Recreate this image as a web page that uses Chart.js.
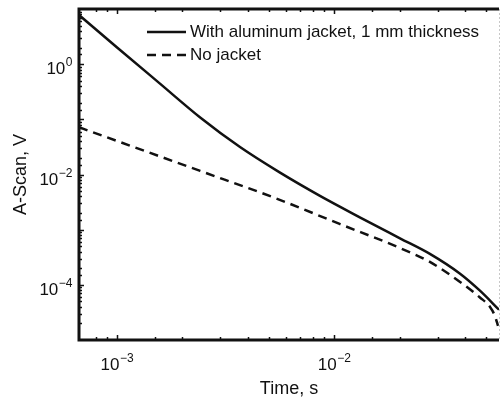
<!DOCTYPE html>
<html>
<head>
<meta charset="utf-8">
<script src="https://cdn.jsdelivr.net/npm/chart.js@4"></script>
<style>
  body { margin: 0; background: #fff; }
  canvas { display: block; }
</style>
</head>
<body>
<canvas id="ascan" width="500" height="398"></canvas>
<script>
// values (log-log)
const timeJacket = [6.7e-4, 1.0e-3, 1.58e-3, 2.42e-3, 3.69e-3, 5.64e-3, 8.61e-3, 1.32e-2, 2.01e-2, 2.76e-2, 3.8e-2, 4.69e-2, 5.74e-2];
const voltJacket = [7.78, 2.03, 0.444, 0.108, 0.0314, 0.0108, 4.1e-3, 1.66e-3, 6.98e-4, 3.64e-4, 1.59e-4, 7.83e-5, 3.54e-5];

const timeNoJacket = [6.7e-4, 2.42e-3, 5.35e-3, 1.06e-2, 2.01e-2, 2.76e-2, 3.8e-2, 4.69e-2, 5.22e-2, 5.5e-2, 5.68e-2];
const voltNoJacket = [0.0718, 0.0116, 3.75e-3, 1.27e-3, 4.65e-4, 2.6e-4, 1.13e-4, 5.9e-5, 3.97e-5, 2.72e-5, 1.8e-5];

const seriesNames = ['With aluminum jacket, 1 mm thickness', 'No jacket'];

const xTickExps = [-3, -2];
const yTickExps = [0, -2, -4];

const FONT = 'Liberation Sans, Arial, sans-serif';

const decadeOf = (v) => {
    const e = Math.log10(v);
    return Math.abs(e - Math.round(e)) < 1e-6 ? Math.round(e) : null;
};

const toPoints = (xs, ys) => xs.map((x, i) => ({ x: x, y: ys[i] }));

// "10" with a raised exponent, anchored by its right edge or its centre
const drawPower = (ctx, exp, x, baseY, align) => {
    const base = '10';
    const sup = String(exp).replace('-', '\u2212');
    ctx.font = '17px ' + FONT;
    const wBase = ctx.measureText(base).width;
    ctx.font = '12px ' + FONT;
    const wSup = ctx.measureText(sup).width;
    const left = align === 'right' ? x - wBase - wSup : x - (wBase + wSup) / 2;
    ctx.textAlign = 'left';
    ctx.textBaseline = 'alphabetic';
    ctx.font = '17px ' + FONT;
    ctx.fillText(base, left, baseY);
    ctx.font = '12px ' + FONT;
    ctx.fillText(sup, left + wBase + 0.5, baseY - 8);
};

// spines with inward ticks and the tick labels, like the original figure
const framePlugin = {
    id: 'frame',
    afterDatasetsDraw(chart) {
        const { ctx, chartArea: a, scales } = chart;
        ctx.save();
        ctx.strokeStyle = '#111';
        ctx.fillStyle = '#111';

        ctx.lineWidth = 1.5;
        scales.x.ticks.forEach(t => {
            const px = Math.round(scales.x.getPixelForValue(t.value)) + 0.5;
            if (px < a.left + 2 || px > a.right - 1) return;
            const len = decadeOf(t.value) !== null ? 5 : 3;
            ctx.beginPath();
            ctx.moveTo(px, a.bottom); ctx.lineTo(px, a.bottom - len);
            ctx.moveTo(px, a.top); ctx.lineTo(px, a.top + len);
            ctx.stroke();
        });
        scales.y.ticks.forEach(t => {
            const py = Math.round(scales.y.getPixelForValue(t.value)) + 0.5;
            if (py < a.top + 2 || py > a.bottom - 2) return;
            const len = decadeOf(t.value) !== null ? 5 : 3;
            ctx.beginPath();
            ctx.moveTo(a.left, py); ctx.lineTo(a.left + len, py);
            ctx.stroke();
        });

        ctx.lineWidth = 3;
        ctx.beginPath();
        ctx.moveTo(a.left, a.bottom);
        ctx.lineTo(a.left, a.top);
        ctx.lineTo(a.right, a.top);
        ctx.moveTo(a.left - 1.5, a.bottom);
        ctx.lineTo(a.right, a.bottom);
        ctx.stroke();

        ctx.lineWidth = 1;
        ctx.strokeStyle = '#c8c8c8';
        ctx.setLineDash([2, 2]);
        ctx.beginPath();
        ctx.moveTo(a.right + 0.5, a.top);
        ctx.lineTo(a.right + 0.5, a.bottom);
        ctx.stroke();
        ctx.setLineDash([]);

        xTickExps.forEach(e => {
            drawPower(ctx, e, scales.x.getPixelForValue(Math.pow(10, e)), a.bottom + 30, 'center');
        });
        yTickExps.forEach(e => {
            drawPower(ctx, e, a.left - 7, scales.y.getPixelForValue(Math.pow(10, e)) + 10, 'right');
        });
        ctx.restore();
    }
};

// legend inside the top of the plot area
const legendPlugin = {
    id: 'insideLegend',
    afterDraw(chart) {
        const { ctx, chartArea: a } = chart;
        ctx.save();
        ctx.font = '17px ' + FONT;
        ctx.textBaseline = 'middle';
        ctx.fillStyle = '#111';
        chart.data.datasets.forEach((ds, i) => {
            const y = a.top + 23 + i * 23;
            ctx.strokeStyle = ds.borderColor;
            ctx.lineWidth = ds.borderWidth;
            ctx.setLineDash(ds.borderDash || []);
            ctx.beginPath();
            ctx.moveTo(a.left + 68, y);
            ctx.lineTo(a.left + 107, y);
            ctx.stroke();
            ctx.fillText(ds.label, a.left + 111, y);
        });
        ctx.restore();
    }
};

new Chart(document.getElementById('ascan'), {
    type: 'scatter',
    data: {
        datasets: [{
            label: seriesNames[0],
            data: toPoints(timeJacket, voltJacket),
            showLine: true,
            borderColor: '#111',
            borderWidth: 2.5,
            pointRadius: 0,
            cubicInterpolationMode: 'monotone'
        }, {
            label: seriesNames[1],
            data: toPoints(timeNoJacket, voltNoJacket),
            showLine: true,
            borderColor: '#111',
            borderWidth: 2.5,
            borderDash: [9, 6],
            pointRadius: 0,
            cubicInterpolationMode: 'monotone'
        }]
    },
    options: {
        responsive: false,
        animation: false,
        devicePixelRatio: 1,
        layout: { padding: { top: 9, right: 1, left: 0, bottom: 0 } },
        plugins: {
            legend: { display: false },
            tooltip: { enabled: false }
        },
        scales: {
            x: {
                type: 'logarithmic',
                min: 6.7e-4,
                max: 5.74e-2,
                grid: { display: false },
                border: { display: false },
                afterFit: (s) => { s.height = 58; s.paddingLeft = 0; s.paddingRight = 0; },
                ticks: { display: false, autoSkip: false },
                title: {
                    display: true,
                    text: 'Time, s',
                    color: '#111',
                    font: { family: FONT, size: 18 },
                    padding: { top: 0, bottom: -2 }
                }
            },
            y: {
                type: 'logarithmic',
                min: 1e-5,
                max: 10,
                grid: { display: false },
                border: { display: false },
                afterFit: (s) => { s.width = 79; s.paddingTop = 0; s.paddingBottom = 0; },
                ticks: { display: false, autoSkip: false },
                title: {
                    display: true,
                    text: 'A-Scan, V',
                    color: '#111',
                    font: { family: FONT, size: 18 },
                    padding: { top: 10, bottom: 0 }
                }
            }
        }
    },
    plugins: [framePlugin, legendPlugin]
});
</script>
</body>
</html>
